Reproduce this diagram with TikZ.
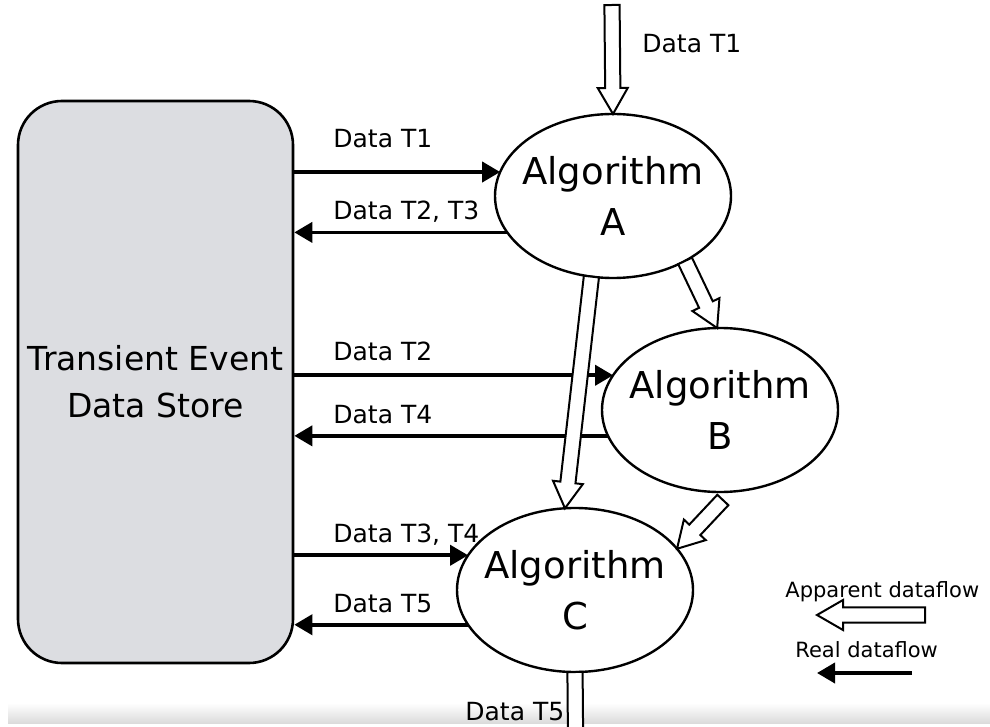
\documentclass[tikz,border=0pt]{standalone}
\usepackage{fontspec}
\setmainfont{DejaVu Sans}
\usetikzlibrary{arrows.meta,shapes.geometric,calc}

\definecolor{storegray}{RGB}{220,221,225}

\tikzset{
  store/.style={draw,line width=1.3pt,fill=storegray,rounded corners=22pt,minimum width=137.5pt,minimum height=281pt,inner sep=0pt,align=center,font=\fontsize{16.5}{23.5}\selectfont},
  alg/.style={ellipse,draw,line width=1.2pt,minimum width=118pt,minimum height=82pt,inner sep=0pt,outer sep=0pt},
  algtext/.style={align=center,font=\fontsize{18.5}{25.5}\selectfont},
  lbl/.style={anchor=base west,inner sep=0pt,font=\fontsize{12.5}{14}\selectfont},
  legend/.style={anchor=base west,inner sep=0pt,font=\fontsize{10.5}{12}\selectfont},
  real/.style={->,line width=1.9pt},
  fatline/.style={draw,fill=white,line width=1pt,line join=miter}
}

% hollow arrow from #1 to #2
\newcommand{\fatarrow}[2]{%
  \coordinate (fa) at ($(#2)!13pt!(#1)$);
  \draw[fatline] ($(#1)!3.8pt!90:(#2)$) -- ($(fa)!3.8pt!-90:(#1)$) -- ($(fa)!7.5pt!-90:(#1)$) -- (#2)
    -- ($(fa)!7.5pt!90:(#1)$) -- ($(fa)!3.8pt!90:(#1)$) -- ($(#1)!3.8pt!-90:(#2)$) -- cycle;
}

\begin{document}
\begin{tikzpicture}[x=0.5pt,y=-0.5pt,>={Triangle[length=9pt,width=10pt]}]
  \useasboundingbox (0,0) rectangle (990,727);
  \clip (0,0) rectangle (990,727);
  \shade[top color=white,bottom color=black!14] (8,703) rectangle (990,723);

  \node[store] (store) at (155.5,382) {Transient Event\\Data Store};
  \node[alg,label={[algtext]center:Algorithm\\A}] (algA) at (613,196) {};
  \node[alg,label={[algtext]center:Algorithm\\B}] (algB) at (720,410) {};
  \node[alg,label={[algtext]center:Algorithm\\C}] (algC) at (575,590) {};

  % real dataflow
  \draw[real] (store.east |- algA.168) -- (algA.168);
  \draw[real] (algA.199) -- (store.east |- algA.199);
  \draw[real] (store.east |- algB.162) -- (algB.162);
  \draw[real] (algB.193) -- (store.east |- algB.193);
  \draw[real] (store.east |- algC.162) -- (algC.162);
  \draw[real] (algC.198) -- (store.east |- algC.198);

  \node[lbl] (lA1) at (333,148) {Data T1};
  \node[lbl] (lA2) at (333,220) {Data T2, T3};
  \node[lbl] (lB1) at (333,360) {Data T2};
  \node[lbl] (lB2) at (333,423) {Data T4};
  \node[lbl] (lC1) at (333,542) {Data T3, T4};
  \node[lbl] (lC2) at (333,612) {Data T5};

  % apparent dataflow
  \coordinate (inA) at (612,5);
  \coordinate (bc) at ($(algB.272)+(0,8)$);
  \coordinate (outC) at (576,790);
  \fatarrow{inA}{algA.north}
  \fatarrow{algA.318}{algB.92}
  \fatarrow{algA.255}{algC.97}
  \fatarrow{bc}{algC.22}
  \fatarrow{algC.south}{outC}

  \node[lbl] (inlbl) at (642,53) {Data T1};
  \node[lbl] (outlbl) at (465,720) {Data T5};

  % legend
  \node[legend] (app) at (785,597) {Apparent dataflow};
  \node[legend] (rl) at (795,657) {Real dataflow};
  \coordinate (appS) at (925,615);
  \coordinate (appE) at (817,615);
  \coordinate (rlS) at (912,673);
  \coordinate (rlE) at (817,673);
  \fatarrow{appS}{appE}
  \draw[real] (rlS) -- (rlE);
\end{tikzpicture}
\end{document}
